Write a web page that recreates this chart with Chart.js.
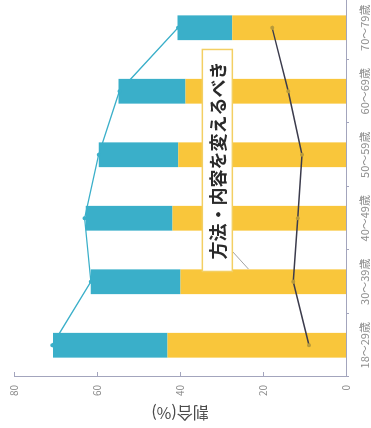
<!DOCTYPE html>
<html>
<head>
<meta charset="utf-8">
<script src="https://cdn.jsdelivr.net/npm/chart.js@4/dist/chart.umd.min.js"></script>
<style>
  html, body { margin: 0; padding: 0; background: #fff; }
  #wrap { position: relative; width: 371px; height: 428px; overflow: hidden; background: #fff; }
  /* the chart is laid out upright, then turned a quarter turn to the left */
  #rot { position: absolute; left: 0; top: 428px; width: 436px; height: 371px;
         transform-origin: 0 0; transform: rotate(-90deg); }
</style>
</head>
<body>
<div id="wrap">
  <div id="rot"><canvas id="chart" width="436" height="371"></canvas></div>
</div>
<script>
'use strict';

// ─── Data ─────────────────────────────────────────────────────────────────────

const ageGroups = ['18～29歳', '30～39歳', '40～49歳', '50～59歳', '60～69歳', '70～79歳'];
const changeMethod = [43.0, 39.9, 41.8, 40.4, 38.7, 27.4];   // yellow
const abolish = [27.6, 21.6, 20.9, 19.2, 16.1, 13.2];        // blue
const totalLine = [70.8, 61.5, 63.0, 59.6, 54.6, 40.5];
const otherLine = [8.9, 12.7, 11.6, 10.6, 13.9, 17.8];
const valueTicks = [0, 20, 40, 60, 80];

const YELLOW = '#f9c63b';
const BLUE = '#3aafc9';
const AXIS = '#a3a5bd';

Chart.defaults.font.family = "'Noto Sans CJK JP', 'Noto Sans', sans-serif";

// ─── Extra drawing: inner ticks + series label ───────────────────────────────

const extras = {
  id: 'extras',
  afterDatasetsDraw(chart) {
    const { ctx, scales: { x, y } } = chart;
    ctx.save();

    // value axis ticks point into the plot
    ctx.strokeStyle = AXIS;
    ctx.lineWidth = 1;
    valueTicks.slice(1).forEach(v => {
      const py = Math.round(y.getPixelForValue(v)) + 0.5;
      ctx.beginPath();
      ctx.moveTo(x.left, py);
      ctx.lineTo(x.left + 5, py);
      ctx.stroke();
    });

    // leader line from the box to the yellow bar
    ctx.strokeStyle = '#8a8a8a';
    ctx.lineWidth = 0.8;
    ctx.beginPath();
    ctx.moveTo(x.getPixelForValue(1.48), y.getPixelForValue(27.4));
    ctx.lineTo(x.getPixelForValue(1.2), y.getPixelForValue(23.5));
    ctx.stroke();

    // label box
    const text = '方法・内容を変えるべき';
    ctx.font = "bold 18px 'Noto Sans CJK JP'";
    const w = ctx.measureText(text).width + 24;
    const h = 30;
    const cx = x.getPixelForValue(2.91);
    const cy = y.getPixelForValue(31.0);
    ctx.fillStyle = '#fff';
    ctx.fillRect(cx - w / 2, cy - h / 2, w, h);
    ctx.strokeStyle = '#f3cf63';
    ctx.lineWidth = 1.5;
    ctx.strokeRect(cx - w / 2, cy - h / 2, w, h);
    ctx.fillStyle = '#2a2a2a';
    ctx.textAlign = 'center';
    ctx.textBaseline = 'middle';
    ctx.fillText(text, cx, cy + 1);

    ctx.restore();
  },
};

// ─── Chart ────────────────────────────────────────────────────────────────────

new Chart(document.getElementById('chart'), {
  data: {
    labels: ageGroups,
    datasets: [
      {
        type: 'line', label: '合計', data: totalLine, stack: 'l1', order: 0,
        borderColor: BLUE, borderWidth: 1.3, tension: 0,
        pointRadius: 2, pointBackgroundColor: BLUE, pointBorderWidth: 0,
      },
      {
        type: 'line', label: 'その他', data: otherLine, stack: 'l2', order: 0,
        borderColor: '#3b3b4c', borderWidth: 1.5, tension: 0,
        pointRadius: 2, pointBackgroundColor: '#b89a3a', pointBorderWidth: 0,
      },
      {
        type: 'bar', label: '方法・内容を変えるべき', data: changeMethod, stack: 'bars', order: 1,
        backgroundColor: YELLOW, barPercentage: 0.39, categoryPercentage: 1,
      },
      {
        type: 'bar', label: '廃止すべき', data: abolish, stack: 'bars', order: 1,
        backgroundColor: BLUE, barPercentage: 0.39, categoryPercentage: 1,
      },
    ],
  },
  options: {
    responsive: false,
    animation: false,
    events: [],
    layout: { padding: { top: 13, right: 0, bottom: 0, left: 0 } },
    plugins: { legend: { display: false }, tooltip: { enabled: false } },
    scales: {
      x: {
        stacked: true,
        afterFit: (s) => { s.height = 25; },
        border: { color: AXIS, width: 1 },
        grid: { drawOnChartArea: false, drawTicks: true, tickLength: 3, color: AXIS },
        ticks: { color: '#8c8c8c', font: { size: 11 }, padding: 9, maxRotation: 0, minRotation: 0 },
      },
      y: {
        stacked: true,
        min: 0,
        max: 80,
        afterBuildTicks: (s) => { s.ticks = valueTicks.map(v => ({ value: v })); },
        afterFit: (s) => { s.width = 51; },
        border: { color: AXIS, width: 1 },
        grid: { display: false, drawTicks: false },
        ticks: { color: '#8c8c8c', font: { size: 10 }, padding: 8 },
        title: {
          display: true, text: '割合(%)', color: '#4a4a4a',
          font: { size: 16 }, padding: { top: 5, bottom: 0 },
        },
      },
    },
  },
  plugins: [extras],
});
</script>
</body>
</html>
